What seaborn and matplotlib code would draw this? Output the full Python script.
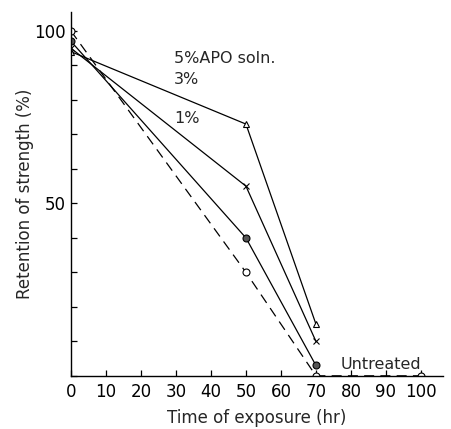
import numpy as np
import pandas as pd
import matplotlib
matplotlib.use('Agg')
import matplotlib.pyplot as plt
import seaborn as sns

# data
hours = [0, 50, 70]
untreated_hours = [0, 50, 70, 100]
untreated = [100, 30, 0, 0]
apo_1 = [97, 40, 3]
apo_3 = [95, 55, 10]
apo_5 = [94, 73, 15]

sns.set_style('ticks')
plt.rcParams['font.family'] = ['DejaVu Sans']

fig = plt.figure(figsize=(4.52, 4.29), dpi=100)
ax = fig.add_axes([0.157, 0.124, 0.823, 0.848])

line_kw = dict(color='black', linewidth=0.9, markersize=5, markeredgecolor='black',
               markeredgewidth=0.8, ax=ax, legend=False)

sns.lineplot(x=untreated_hours, y=untreated, marker='o', markerfacecolor='white',
             linestyle=(0, (8, 5)), **line_kw)
sns.lineplot(x=hours, y=apo_1, marker='o', markerfacecolor='#555555', **line_kw)
sns.lineplot(x=hours, y=apo_3, marker='x', **line_kw)
sns.lineplot(x=hours, y=apo_5, marker='^', markerfacecolor='white', **line_kw)

ax.text(29.5, 92, '5%APO soln.', fontsize=11.5, va='center')
ax.text(29.5, 86, '3%', fontsize=11.5, va='center')
ax.text(29.5, 74.5, '1%', fontsize=11.5, va='center')
ax.text(77, 3.3, 'Untreated', fontsize=11.5, va='center')

ax.set_xlim(0, 106.3)
ax.set_ylim(0, 105.5)
ax.set_xticks(np.arange(0, 101, 10))
ax.set_yticks(np.arange(0, 101, 10))
ax.set_yticklabels(['' if v not in (50, 100) else str(v) for v in range(0, 101, 10)])
ax.tick_params(axis='both', direction='in', length=4, width=0.9, labelsize=12,
               colors='black')
ax.tick_params(axis='x', pad=5)
ax.tick_params(axis='y', pad=4)
ax.spines['top'].set_visible(False)
ax.spines['right'].set_visible(False)
for s in ('left', 'bottom'):
    ax.spines[s].set_linewidth(1.0)
    ax.spines[s].set_color('black')

ax.set_xlabel('Time of exposure (hr)', fontsize=12, labelpad=6)
ax.set_ylabel('Retention of strength (%)', fontsize=12, labelpad=0)

fig.savefig('out.png', dpi=100)
